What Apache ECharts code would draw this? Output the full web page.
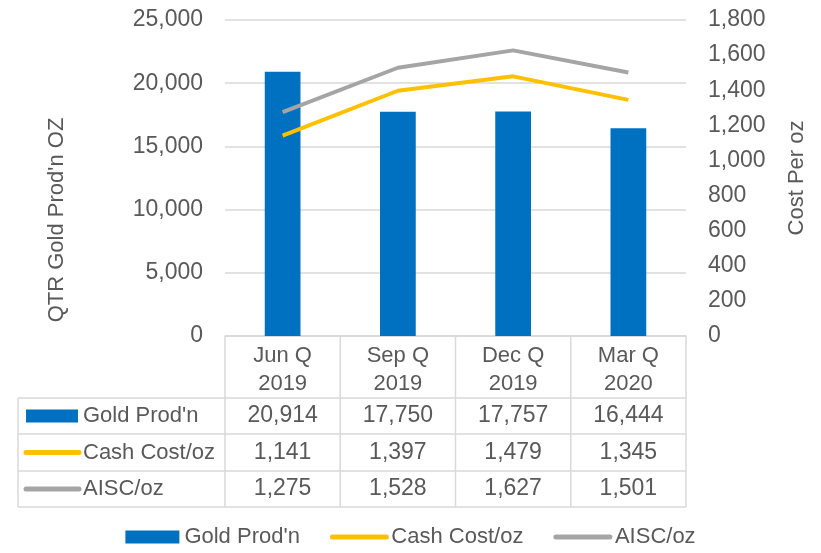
<!DOCTYPE html>
<html>
<head>
<meta charset="utf-8">
<script src="https://cdn.jsdelivr.net/npm/echarts@6/dist/echarts.min.js"></script>
<style>
  html, body { margin: 0; padding: 0; background: #fff; }
  #main { width: 821px; height: 553px; }
</style>
</head>
<body>
<div id="main"></div>
<script>
var quarters = ['Jun Q\n2019', 'Sep Q\n2019', 'Dec Q\n2019', 'Mar Q\n2020'];
var goldProd = [20914, 17750, 17757, 16444];
var cashCost = [1141, 1397, 1479, 1345];
var aisc = [1275, 1528, 1627, 1501];
var seriesNames = ["Gold Prod'n", 'Cash Cost/oz', 'AISC/oz'];
var seriesColors = ['#0070C0', '#FFC000', '#A5A5A5'];

var FONT = 'Liberation Sans';
var TXT = '#595959';
var LINE = '#D9D9D9';
var NUM_SIZE = 23;

// plot area / table layout
var gl = 225, gr = 686, gt = 20, gb = 336;
var tableLeft = 18;
var rowY = [336, 398, 434, 471, 507];

function fmt(v) {
    return v.toLocaleString('en-US');
}

function buildTable() {
    var els = [];
    var colW = (gr - gl) / quarters.length;
    // horizontal lines
    for (var r = 1; r < rowY.length; r++) {
        els.push({ type: 'line', shape: { x1: tableLeft, y1: rowY[r], x2: gr, y2: rowY[r] },
            style: { stroke: LINE, lineWidth: 1.5 } });
    }
    // vertical lines
    els.push({ type: 'line', shape: { x1: tableLeft, y1: rowY[1], x2: tableLeft, y2: rowY[4] },
        style: { stroke: LINE, lineWidth: 1.5 } });
    for (var c = 0; c <= quarters.length; c++) {
        var x = gl + c * colW;
        els.push({ type: 'line', shape: { x1: x, y1: rowY[0], x2: x, y2: rowY[4] },
            style: { stroke: LINE, lineWidth: 1.5 } });
    }
    var rows = [goldProd, cashCost, aisc];
    for (var i = 0; i < rows.length; i++) {
        var cy = (rowY[i + 1] + rowY[i + 2]) / 2;
        // legend key
        if (i === 0) {
            els.push({ type: 'rect', shape: { x: 26, y: cy - 6.5, width: 52, height: 13 },
                style: { fill: seriesColors[i] } });
        } else {
            els.push({ type: 'line', shape: { x1: 26, y1: cy, x2: 79, y2: cy },
                style: { stroke: seriesColors[i], lineWidth: 5, lineCap: 'round' } });
        }
        els.push({ type: 'text', x: 83, y: cy,
            style: { text: seriesNames[i], fill: TXT, font: '22px ' + FONT, textVerticalAlign: 'middle' } });
        for (var j = 0; j < quarters.length; j++) {
            els.push({ type: 'text', x: gl + (j + 0.5) * colW, y: cy,
                style: { text: fmt(rows[i][j]), fill: TXT, font: NUM_SIZE + 'px ' + FONT,
                    textAlign: 'center', textVerticalAlign: 'middle' } });
        }
    }
    // left axis title
    els.push({ type: 'text', x: 57, y: 220, rotation: Math.PI / 2,
        style: { text: "QTR Gold Prod'n OZ", fill: TXT, font: '22px ' + FONT,
            textAlign: 'center', textVerticalAlign: 'middle' } });
    return els;
}

var myChart = echarts.init(document.getElementById('main'));

var option = {
    animation: false,
    textStyle: { fontFamily: FONT },
    grid: { left: gl, right: 821 - gr, top: gt, bottom: 553 - gb },
    legend: {
        bottom: 0,
        left: 'center',
        itemWidth: 54,
        itemHeight: 13,
        itemGap: 30,
        textStyle: { color: TXT, fontSize: 22, fontFamily: FONT },
        data: [
            { name: seriesNames[0], icon: 'rect' },
            { name: seriesNames[1], itemStyle: { opacity: 0 }, lineStyle: { width: 5, cap: 'round' } },
            { name: seriesNames[2], itemStyle: { opacity: 0 }, lineStyle: { width: 5, cap: 'round' } }
        ]
    },
    xAxis: [{
        type: 'category',
        data: quarters,
        axisLine: { lineStyle: { color: LINE, width: 1.5 } },
        axisTick: { show: false },
        axisLabel: { color: TXT, fontSize: 22, lineHeight: 28, margin: 6, fontFamily: FONT }
    }],
    yAxis: [
        {
            type: 'value',
            min: 0,
            max: 25000,
            interval: 5000,
            axisLine: { show: false },
            axisTick: { show: false },
            splitLine: { lineStyle: { color: LINE, width: 1.5 } },
            axisLabel: { color: TXT, fontSize: NUM_SIZE, margin: 22, formatter: fmt }
        },
        {
            type: 'value',
            min: 0,
            max: 1800,
            interval: 200,
            position: 'right',
            name: 'Cost Per oz',
            nameLocation: 'middle',
            nameRotate: 90,
            nameGap: 100,
            nameTextStyle: { color: TXT, fontSize: 22 },
            axisLine: { show: false },
            axisTick: { show: false },
            splitLine: { show: false },
            axisLabel: { color: TXT, fontSize: NUM_SIZE, margin: 22, formatter: fmt }
        }
    ],
    series: [
        {
            name: seriesNames[0],
            type: 'bar',
            barWidth: '31%',
            itemStyle: { color: seriesColors[0] },
            data: goldProd
        },
        {
            name: seriesNames[1],
            type: 'line',
            yAxisIndex: 1,
            symbol: 'none',
            lineStyle: { color: seriesColors[1], width: 4 },
            itemStyle: { color: seriesColors[1] },
            data: cashCost
        },
        {
            name: seriesNames[2],
            type: 'line',
            yAxisIndex: 1,
            symbol: 'none',
            lineStyle: { color: seriesColors[2], width: 4 },
            itemStyle: { color: seriesColors[2] },
            data: aisc
        }
    ],
    graphic: buildTable()
};

myChart.setOption(option);
</script>
</body>
</html>
